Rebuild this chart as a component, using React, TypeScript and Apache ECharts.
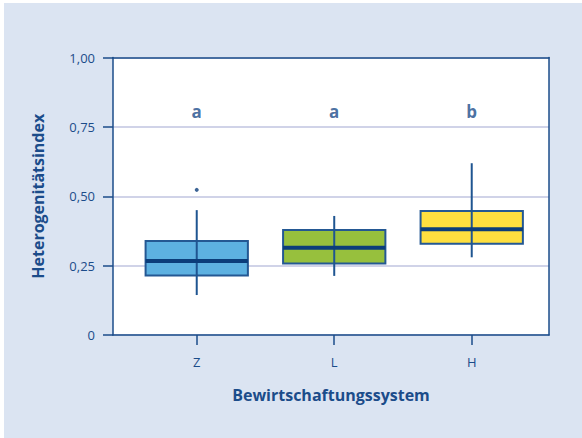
import React, { useEffect, useRef } from "react";
import * as echarts from "echarts";

// Management systems on the x axis
const categories = ["Z", "L", "H"];
// Box statistics per system: [min whisker, Q1, median, Q3, max whisker]
const boxStats = [
  [0.144, 0.214, 0.267, 0.339, 0.45],
  [0.213, 0.258, 0.314, 0.378, 0.429],
  [0.28, 0.329, 0.381, 0.447, 0.619],
];
const boxColors = ["#5db1e1", "#97c03d", "#fedf3f"];
// Outliers as [category index, value]
const outliers = [[0, 0.523]];
// Significance letters shown above the boxes
const groupLetters = ["a", "a", "b"];
const letterLevel = 0.806;
// Y axis ticks
const yTicks = [0, 0.25, 0.5, 0.75, 1];

const DARK = "#1b4d8a";
const TEXT = "#1b4c8a";
const FONT = "'Open Sans', 'Noto Sans', sans-serif";

const fmtY = (v: number) => (v === 0 ? "0" : v.toFixed(2).replace(".", ","));

export default function App() {
  const ref = useRef<HTMLDivElement>(null);

  useEffect(() => {
    if (!ref.current) return;
    const chart = echarts.init(ref.current, null, { renderer: "svg" });

    const xMin = -0.609;
    const xMax = 2.562;
    const boxHalf = 0.372;

    chart.setOption({
      animation: false,
      backgroundColor: "#dbe4f2",
      textStyle: { fontFamily: FONT },
      grid: {
        left: 109,
        right: 33,
        top: 54.5,
        bottom: 103,
        show: true,
        backgroundColor: "#ffffff",
        borderWidth: 0,
      },
      xAxis: [
        {
          type: "value",
          min: xMin,
          max: xMax,
          z: 5,
          axisLine: { show: true, onZero: false, lineStyle: { color: DARK, width: 1.5 } },
          axisTick: {
            show: true,
            length: 10,
            customValues: categories.map((_, i) => i),
            lineStyle: { color: DARK, width: 1.5 },
          },
          axisLabel: {
            customValues: categories.map((_, i) => i),
            formatter: (v: number) => categories[Math.round(v)] ?? "",
            color: TEXT,
            fontSize: 13,
            fontFamily: FONT,
            margin: 20,
          },
          splitLine: { show: false },
          name: "Bewirtschaftungssystem",
          nameLocation: "middle",
          nameGap: 52,
          nameTextStyle: { color: TEXT, fontSize: 16, fontWeight: "bold", fontFamily: FONT },
        },
        {
          type: "value",
          position: "top",
          min: xMin,
          max: xMax,
          z: 5,
          axisLine: { show: true, onZero: false, lineStyle: { color: DARK, width: 1.5 } },
          axisTick: { show: false },
          axisLabel: { show: false },
          splitLine: { show: false },
        },
      ],
      yAxis: [
        {
          type: "value",
          min: 0,
          max: 1,
          interval: 0.25,
          axisLine: { show: true, onZero: false, lineStyle: { color: DARK, width: 1.5 } },
          axisTick: { show: true, length: 10, lineStyle: { color: DARK, width: 1.5 } },
          axisLabel: {
            formatter: (v: number) => (yTicks.includes(v) ? fmtY(v) : ""),
            color: TEXT,
            fontSize: 13,
            fontFamily: FONT,
            margin: 18,
          },
          splitLine: { show: true, lineStyle: { color: "#c0c4e0", width: 1.5 } },
          name: "Heterogenitätsindex",
          nameLocation: "middle",
          nameGap: 67,
          nameTextStyle: { color: TEXT, fontSize: 16, fontWeight: "bold", fontFamily: FONT },
        },
        {
          type: "value",
          position: "right",
          min: 0,
          max: 1,
          z: 5,
          axisLine: { show: true, onZero: false, lineStyle: { color: DARK, width: 1.5 } },
          axisTick: { show: false },
          axisLabel: { show: false },
          splitLine: { show: false },
        },
      ],
      series: [
        {
          type: "custom",
          z: 3,
          data: boxStats.map((s, i) => [i, ...s]),
          renderItem: (params: any, api: any) => {
            const i = api.value(0);
            const lo = api.value(1);
            const q1 = api.value(2);
            const med = api.value(3);
            const q3 = api.value(4);
            const hi = api.value(5);
            const pLo = api.coord([i, lo]);
            const pHi = api.coord([i, hi]);
            const tl = api.coord([i - boxHalf, q3]);
            const br = api.coord([i + boxHalf, q1]);
            const mL = api.coord([i - boxHalf, med]);
            const mR = api.coord([i + boxHalf, med]);
            return {
              type: "group",
              children: [
                {
                  type: "rect",
                  shape: { x: tl[0], y: tl[1], width: br[0] - tl[0], height: br[1] - tl[1] },
                  style: { fill: boxColors[params.dataIndex], stroke: "#245893", lineWidth: 2 },
                },
                {
                  type: "line",
                  shape: { x1: pLo[0], y1: pLo[1], x2: pHi[0], y2: pHi[1] },
                  style: { stroke: "#1f5591", lineWidth: 2 },
                },
                {
                  type: "line",
                  shape: { x1: mL[0], y1: mL[1], x2: mR[0], y2: mR[1] },
                  style: { stroke: "#0b3d7a", lineWidth: 4 },
                },
              ],
            };
          },
        },
        {
          type: "scatter",
          z: 4,
          symbol: "circle",
          symbolSize: 4,
          itemStyle: { color: "#0b3d7a" },
          data: outliers,
        },
        {
          type: "scatter",
          z: 4,
          symbolSize: 0,
          data: groupLetters.map((l, i) => ({ name: l, value: [i, letterLevel] })),
          label: {
            show: true,
            position: "inside",
            formatter: (p: any) => p.name,
            color: TEXT,
            fontSize: 17,
            fontWeight: "bold",
            fontFamily: FONT,
          },
        },
      ],
    });

    return () => chart.dispose();
  }, []);

  return (
    <div
      ref={ref}
      style={{ position: "absolute", left: 4, top: 3, width: 578, height: 435 }}
    />
  );
}
